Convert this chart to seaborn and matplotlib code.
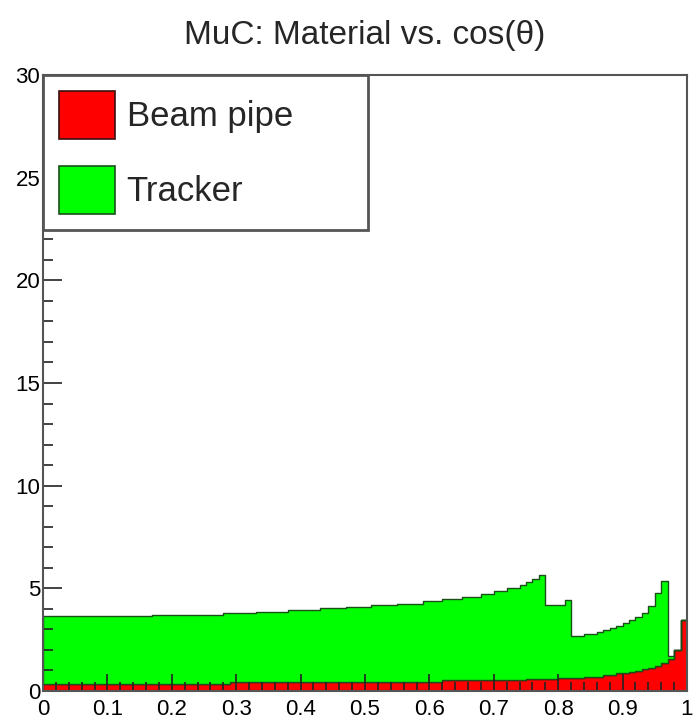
import numpy as np
import pandas as pd
import matplotlib
matplotlib.use("Agg")
import matplotlib.pyplot as plt
from matplotlib.patches import Patch
from matplotlib.ticker import MultipleLocator, FixedLocator, FixedFormatter
import seaborn as sns

# ---- data (100 bins of 0.01 in cos(theta)) ----
bin_edges_min, bin_edges_max, n_bins = 0.0, 1.0, 100
# Beam pipe per-bin material
beam_pipe = ([0.36] * 29 + [0.44] * 33 + [0.52] * 13 + [0.60] * 5 + [0.64] * 4 +
             [0.70] * 3 + [0.78] * 2 + [0.86] * 2 +
             [0.92, 0.98, 1.05, 1.13, 1.22, 1.35, 1.55, 2.00, 3.45])
# stacked total (beam pipe + tracker), read from top of green area
stack_total = ([3.66] * 17 + [3.72] * 11 + [3.80] * 5 + [3.86] * 5 + [3.94] * 5 +
               [4.02] * 4 + [4.10] * 4 + [4.18] * 4 + [4.26] * 4 + [4.36] * 3 +
               [4.46] * 3 + [4.58] * 3 + [4.70] * 2 + [4.85] * 2 + [5.00] * 2 +
               [5.15, 5.30, 5.45, 5.65] + [4.20] * 3 + [4.45] +
               [2.70, 2.70, 2.80, 2.80, 2.88, 2.96, 3.06, 3.18, 3.30, 3.44, 3.60,
                3.80, 4.15, 4.75, 5.35] +
               [1.70, 2.00, 3.45])
tracker = [max(t - b, 0.0) for t, b in zip(stack_total, beam_pipe)]

components = ["Beam pipe", "Tracker"]
colors = {"Beam pipe": "#ff0000", "Tracker": "#00ff00"}
edge_colors = {"Beam pipe": "#3a1010", "Tracker": "#1a4f1a"}
xtick_vals = [0, 0.1, 0.2, 0.3, 0.4, 0.5, 0.6, 0.7, 0.8, 0.9, 1.0]
xtick_labels = ["0", "0.1", "0.2", "0.3", "0.4", "0.5", "0.6", "0.7", "0.8", "0.9", "1"]
ytick_vals = [0, 5, 10, 15, 20, 25, 30]
ytick_labels = ["0", "5", "10", "15", "20", "25", "30"]
title = "MuC: Material vs. cos(θ)"

centers = (np.arange(n_bins) + 0.5) / n_bins
df = pd.DataFrame({
    "cos": np.concatenate([centers, centers]),
    "material": np.array(beam_pipe + tracker),
    "component": ["Beam pipe"] * n_bins + ["Tracker"] * n_bins,
})

sns.set_style("ticks")
plt.rcParams["font.family"] = ["Liberation Sans", "DejaVu Sans"]

fig = plt.figure(figsize=(6.93, 7.2), dpi=100)
ax = fig.add_axes([43 / 693, 1 - 691 / 720, 644 / 693, 616 / 720])

sns.histplot(data=df, x="cos", weights="material", hue="component",
             hue_order=["Tracker", "Beam pipe"], palette=colors,
             bins=n_bins, binrange=(bin_edges_min, bin_edges_max),
             multiple="stack", element="step", alpha=1, linewidth=1.0,
             legend=False, ax=ax)

# edge colours per component
for coll in ax.collections:
    fc = coll.get_facecolor()
    if len(fc) and fc[0][0] > 0.9 and fc[0][1] < 0.1:
        coll.set_edgecolor(edge_colors["Beam pipe"])
    else:
        coll.set_edgecolor(edge_colors["Tracker"])

ax.set_axisbelow(False)
ax.set_xlim(0, 1)
ax.set_ylim(0, 30)
ax.set_xlabel("")
ax.set_ylabel("")

ax.xaxis.set_major_locator(FixedLocator(xtick_vals))
ax.xaxis.set_major_formatter(FixedFormatter(xtick_labels))
ax.yaxis.set_major_locator(FixedLocator(ytick_vals))
ax.yaxis.set_major_formatter(FixedFormatter(ytick_labels))
ax.xaxis.set_minor_locator(MultipleLocator(0.02))
ax.yaxis.set_minor_locator(MultipleLocator(1))

ax.tick_params(axis="both", which="both", direction="in", top=False, right=False,
               colors="#222222", labelcolor="black", labelsize=16)
ax.tick_params(axis="x", which="major", length=12.5, width=1.2, pad=6)
ax.tick_params(axis="x", which="minor", length=6.5, width=1.2)
ax.tick_params(axis="y", which="major", length=13.5, width=1.2, pad=2)
ax.tick_params(axis="y", which="minor", length=7, width=1.2)

for s in ax.spines.values():
    s.set_visible(True)
    s.set_color("#555555")
    s.set_linewidth(1.5)
    s.set_zorder(5)

ax.set_title(title, fontsize=24, pad=22)

handles = [Patch(facecolor=colors[c], edgecolor=edge_colors[c], linewidth=1.2, label=c)
           for c in components]
leg = ax.legend(handles=handles, loc="upper left", bbox_to_anchor=(0, 1, 0.505, 0),
                mode="expand", borderaxespad=0, fancybox=False, framealpha=1,
                edgecolor="#555555", fontsize=25, handlelength=1.6, handleheight=1.73,
                handletextpad=0.35, labelspacing=0.8, borderpad=0.46)
leg.get_frame().set_linewidth(2)
leg.set_zorder(6)

fig.savefig("out.png", dpi=100)
